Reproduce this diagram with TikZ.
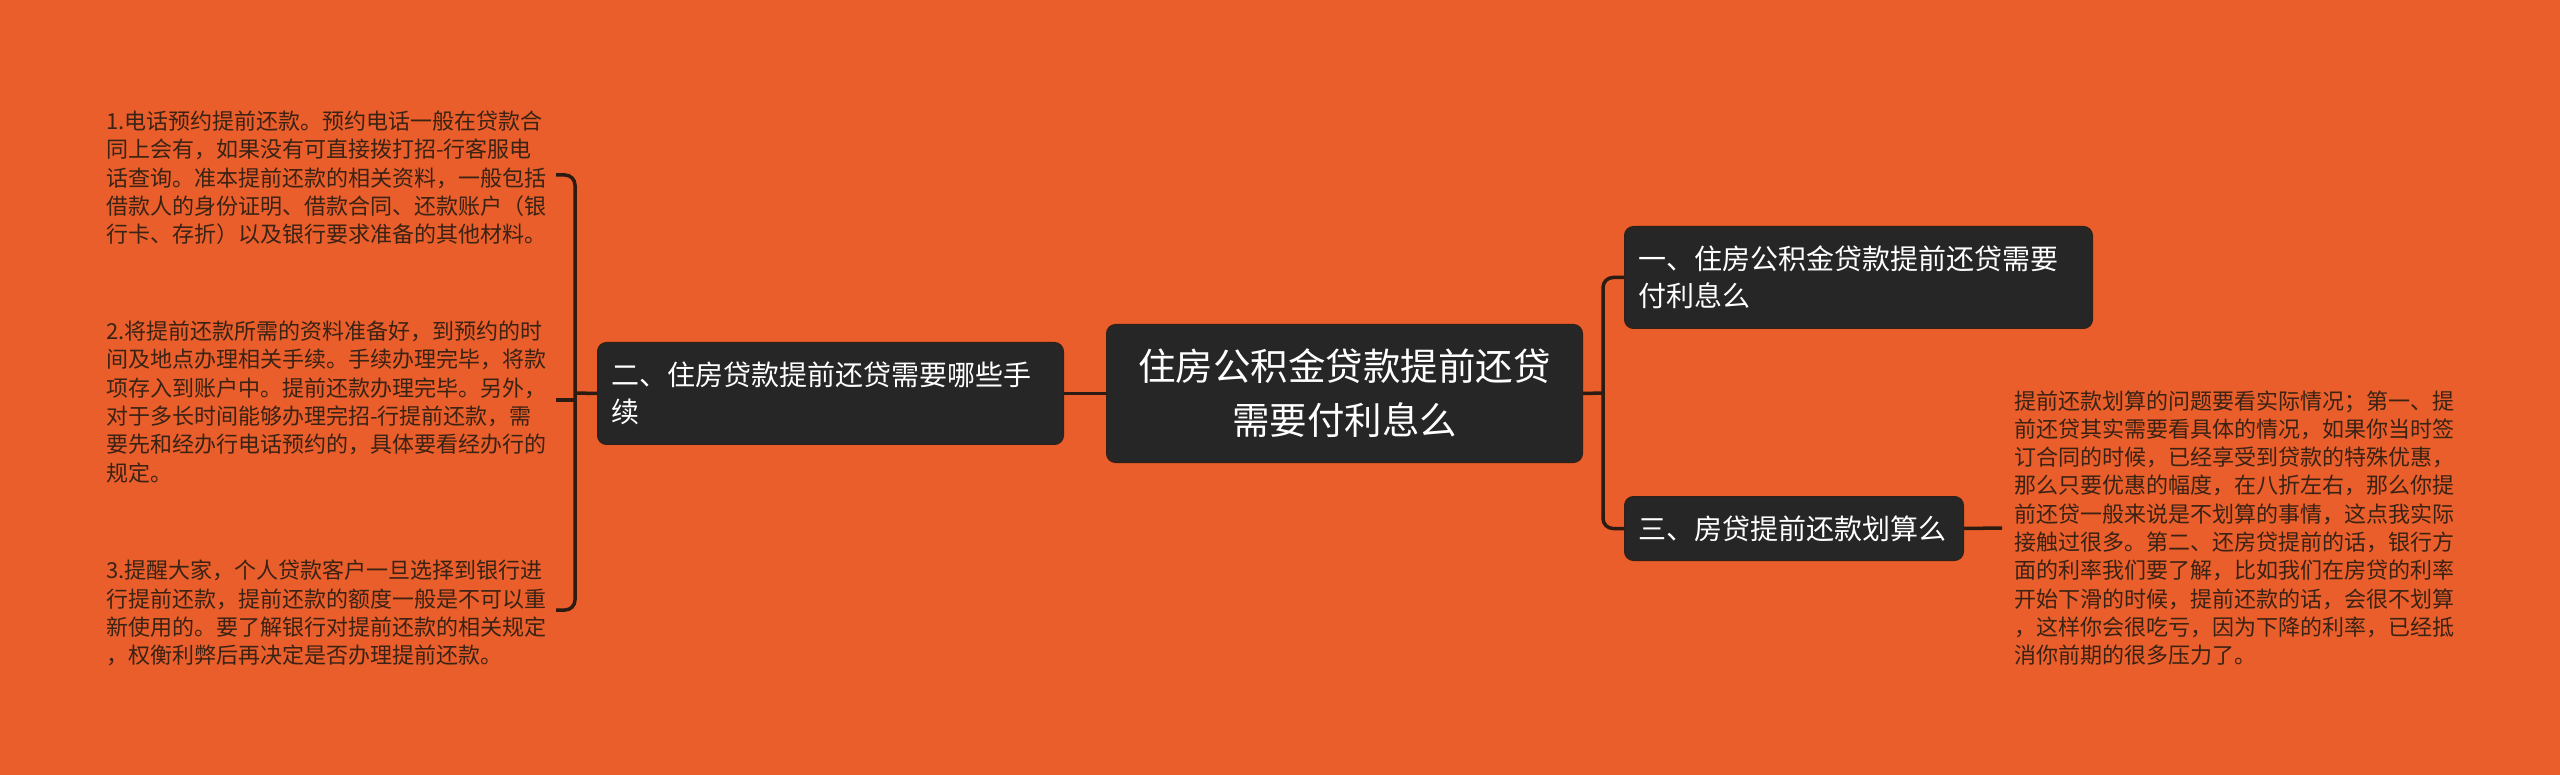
\documentclass[tikz,border=0pt]{standalone}
\usepackage{fontspec}
\setmainfont{Noto Sans CJK SC}
\definecolor{bg}{RGB}{233,94,42}
\definecolor{boxc}{RGB}{38,38,38}
\definecolor{boxline}{RGB}{48,32,24}
\definecolor{linec}{RGB}{43,27,18}
\definecolor{leafc}{RGB}{58,34,20}
\begin{document}
\begin{tikzpicture}[x=1pt,y=-1pt,
 conn/.style={draw=linec, line width=3.5pt},
 box/.style={draw=boxline, line width=1pt, fill=boxc, rounded corners=9pt, text=white, anchor=north west, inner ysep=0pt},
 branch/.style={box, font=\fontsize{28}{37}\selectfont, align=left, inner xsep=14pt},
 leaf/.style={text=leafc, font=\fontsize{22}{28.3}\selectfont, align=left, inner sep=0pt, anchor=west}]
\fill[bg] (0,0) rectangle (2560,775);
\useasboundingbox (0,0) rectangle (2560,775);

\node[box, font=\fontsize{37.5}{54}\selectfont, align=center, inner xsep=18pt, text width=440pt, minimum height=138pt] (C) at (1106,324) {住房公积金贷款提前还贷\\需要付利息么};
\node[branch, text width=438pt, minimum height=102pt] (L) at (597,342) {二、住房贷款提前还贷需要哪些手\\续};
\node[branch, text width=440pt, minimum height=102pt] (R1) at (1624,226) {一、住房公积金贷款提前还贷需要\\付利息么};
\node[branch, text width=311pt, minimum height=64pt] (R3) at (1624,496) {三、房贷提前还款划算么};

\node[leaf] (B1) at (106,178) {1.电话预约提前还款。预约电话一般在贷款合\\同上会有，如果没有可直接拨打招-行客服电\\话查询。准本提前还款的相关资料，一般包括\\借款人的身份证明、借款合同、还款账户（银\\行卡、存折）以及银行要求准备的其他材料。};
\node[leaf] (B2) at (106,402) {2.将提前还款所需的资料准备好，到预约的时\\间及地点办理相关手续。手续办理完毕，将款\\项存入到账户中。提前还款办理完毕。另外，\\对于多长时间能够办理完招-行提前还款，需\\要先和经办行电话预约的，具体要看经办行的\\规定。};
\node[leaf] (B3) at (106,613) {3.提醒大家，个人贷款客户一旦选择到银行进\\行提前还款，提前还款的额度一般是不可以重\\新使用的。要了解银行对提前还款的相关规定\\，权衡利弊后再决定是否办理提前还款。};
\node[leaf, inner xsep=12pt] (T) at (2002,528) {提前还款划算的问题要看实际情况；第一、提\\前还贷其实需要看具体的情况，如果你当时签\\订合同的时候，已经享受到贷款的特殊优惠，\\那么只要优惠的幅度，在八折左右，那么你提\\前还贷一般来说是不划算的事情，这点我实际\\接触过很多。第二、还房贷提前的话，银行方\\面的利率我们要了解，比如我们在房贷的利率\\开始下滑的时候，提前还款的话，会很不划算\\，这样你会很吃亏，因为下降的利率，已经抵\\消你前期的很多压力了。};

\coordinate (h1) at (556,175);
\coordinate (h2) at (556,400);
\coordinate (h3) at (556,610);
\coordinate (jL) at (575,393);
\coordinate (jR) at (1603,393);

\draw[conn] (C.west) -- (L.east);
\draw[conn] (L.west) -- (jL);
\draw[conn, rounded corners=10pt] (h1) -| (jL);
\draw[conn, rounded corners=10pt] (h3) -| (jL);
\draw[conn] (h2) -- (h2 -| jL);
\draw[conn] (C.east) -- (jR);
\draw[conn, rounded corners=10pt] (jR) |- (R1.west);
\draw[conn, rounded corners=10pt] (jR) |- (R3.west);
\draw[conn] (R3.east) -- (T.west);
\end{tikzpicture}
\end{document}
